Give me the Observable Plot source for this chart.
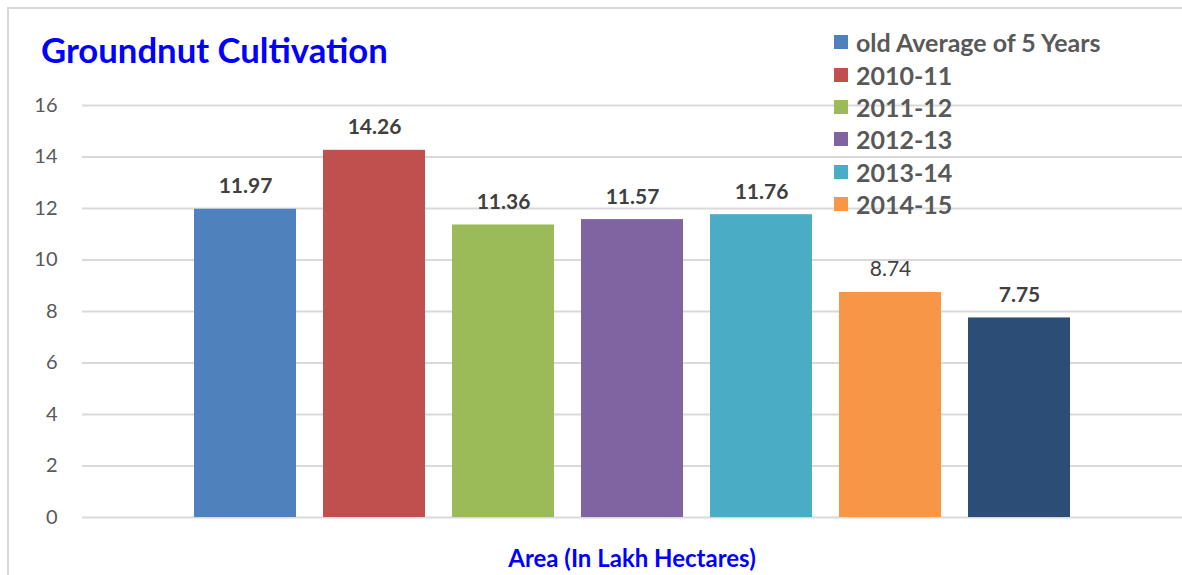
<!DOCTYPE html>
<html>
<head>
<meta charset="utf-8">
<script src="https://cdn.jsdelivr.net/npm/d3@7"></script>
<script src="https://cdn.jsdelivr.net/npm/@observablehq/plot@0.6"></script>
<style>
  html, body { margin: 0; padding: 0; background: #fff; }
  #wrap { position: relative; width: 1182px; height: 575px; overflow: hidden; font-family: Lato, "Noto Sans", sans-serif; }
  #border { position: absolute; left: 7px; top: 7px; width: 1180px; height: 570px; border-left: 2px solid #d9d9d9; border-top: 2px solid #d9d9d9; box-sizing: border-box; }
  #title { position: absolute; left: 41px; top: 29px; font-size: 34.7px; font-weight: 700; color: #0000ff; white-space: nowrap; }
  #xlabel { position: absolute; left: 0; width: 1264px; text-align: center; top: 543px; font-size: 24px; font-weight: 700; color: #0000ff; }
  #legend { position: absolute; left: 834px; top: 26px; }
  .li { display: flex; align-items: center; height: 32.4px; font-size: 25px; font-weight: 700; color: #595959; white-space: nowrap; }
  .sw { width: 14px; height: 14px; margin-right: 8px; flex: none; }
  #chart { position: absolute; left: 0; top: 0; }
</style>
</head>
<body>
<div id="wrap">
  <div id="chart"></div>
  <div id="border"></div>
  <div id="title">Groundnut Cultivation</div>
  <div id="legend"></div>
  <div id="xlabel">Area (In Lakh Hectares)</div>
</div>
<script>
const categories = ["old Average of 5 Years", "2010-11", "2011-12", "2012-13", "2013-14", "2014-15", "2015-16"];
const values = [11.97, 14.26, 11.36, 11.57, 11.76, 8.74, 7.75];
const colors = ["#4F81BD", "#C0504D", "#9BBB59", "#8064A2", "#4BACC6", "#F79646", "#2C4D75"];
const labelBold = [true, true, true, true, true, false, true];
const legendCount = 6;
const yTicks = [0, 2, 4, 6, 8, 10, 12, 14, 16];

const data = categories.map((c, i) => ({cat: c, value: values[i], color: colors[i], bold: labelBold[i]}));

const chart = Plot.plot({
  width: 1182,
  height: 575,
  marginLeft: 82,
  marginRight: 0,
  marginTop: 105,
  marginBottom: 58,
  style: {fontFamily: "Lato, 'Noto Sans', sans-serif", background: "transparent"},
  x: {domain: categories, paddingInner: 0.209, paddingOuter: 0.86, axis: null},
  y: {domain: [0, 16], ticks: yTicks, tickSize: 0, tickPadding: 25, label: null},
  marks: [
    Plot.ruleY(yTicks, {stroke: "#d9d9d9", strokeWidth: 2}),
    Plot.barY(data, {x: "cat", y: "value", fill: "color"}),
    Plot.text(data.filter(d => d.bold), {x: "cat", y: "value", text: d => d.value.toFixed(2), lineAnchor: "bottom", dy: -16, fontSize: 21, fontWeight: "bold", fill: "#404040"}),
    Plot.text(data.filter(d => !d.bold), {x: "cat", y: "value", text: d => d.value.toFixed(2), lineAnchor: "bottom", dy: -16, fontSize: 21, fill: "#404040"}),
    Plot.axisY({ticks: yTicks, tickSize: 0, tickPadding: 25, fontSize: 20, fill: "#595959", label: null})
  ]
});
document.getElementById("chart").appendChild(chart);

const leg = document.getElementById("legend");
for (let i = 0; i < legendCount; i++) {
  const row = document.createElement("div");
  row.className = "li";
  const sw = document.createElement("span");
  sw.className = "sw";
  sw.style.background = colors[i];
  const t = document.createElement("span");
  t.textContent = categories[i];
  row.appendChild(sw);
  row.appendChild(t);
  leg.appendChild(row);
}
</script>
</body>
</html>
